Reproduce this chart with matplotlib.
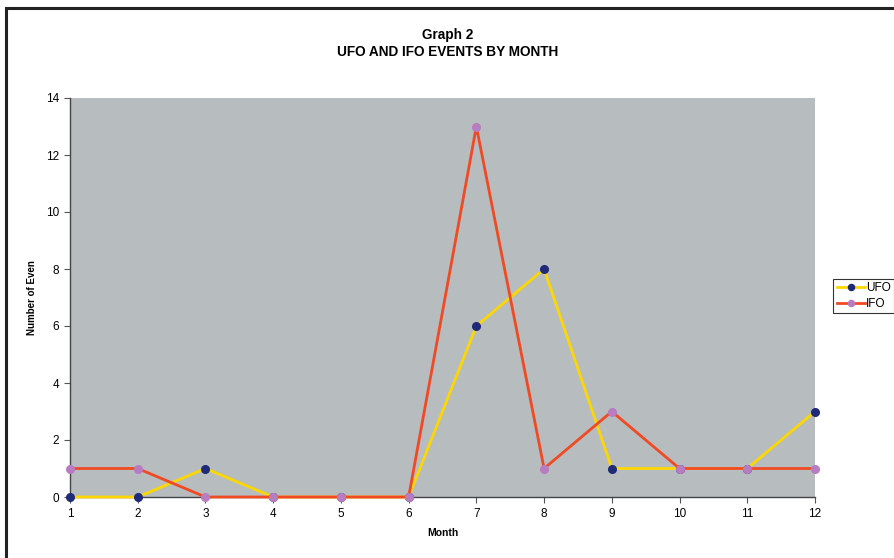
import matplotlib.pyplot as plt
from matplotlib.patches import Rectangle

# data
months = [1, 2, 3, 4, 5, 6, 7, 8, 9, 10, 11, 12]
ufo = [0, 0, 1, 0, 0, 0, 6, 8, 1, 1, 1, 3]
ifo = [1, 1, 0, 0, 0, 0, 13, 1, 3, 1, 1, 1]
yticks = [0, 2, 4, 6, 8, 10, 12, 14]

plt.rcParams['font.family'] = ['Liberation Sans', 'DejaVu Sans']

fig = plt.figure(figsize=(8.95, 5.58), dpi=100)
ax = fig.add_axes([70/895, 1 - 497/558, 745/895, 399/558])
ax.set_facecolor('#b7bcbe')

ax.plot(months, ufo, color='#ffd700', lw=2, marker='o', ms=5.5,
        mfc='#1f2a78', mec='#1f2a78', label='UFO', clip_on=False, zorder=3)
ax.plot(months, ifo, color='#f04a24', lw=2, marker='o', ms=5.5,
        mfc='#b87cc0', mec='#b87cc0', label='IFO', clip_on=False, zorder=4)

ax.set_xlim(1, 12)
ax.set_ylim(0, 14)
ax.set_xticks(months)
ax.set_yticks(yticks)
ax.tick_params(labelsize=8.5, length=4, color='#555555', pad=4)
for s in ['top', 'right']:
    ax.spines[s].set_visible(False)
for s in ['left', 'bottom']:
    ax.spines[s].set_color('#444444')
    ax.spines[s].set_linewidth(1)

ax.set_xlabel('Month', fontsize=7.5, fontweight='bold', labelpad=6)
ax.set_ylabel('Number of Even', fontsize=7, fontweight='bold', labelpad=6)

fig.text(0.5, 1 - 35/558, 'Graph 2', ha='center', va='center',
         fontsize=9.8, fontweight='bold')
fig.text(0.5, 1 - 52/558, 'UFO AND IFO EVENTS BY MONTH', ha='center',
         va='center', fontsize=9.8, fontweight='bold')

leg = fig.legend(loc='center left', bbox_to_anchor=(833/895, 1 - 296/558),
                 fontsize=8.5, frameon=True, fancybox=False, borderpad=0.3,
                 handlelength=2.4, handletextpad=0.1, labelspacing=0.3,
                 borderaxespad=0, markerscale=0.8)
leg.get_frame().set_edgecolor('black')
leg.get_frame().set_linewidth(0.8)

# outer chart frame
fig.patches.append(Rectangle((6/895, -0.1), 1.1, 1 - 8/558 + 0.1,
                             transform=fig.transFigure, fill=False,
                             edgecolor='#222222', lw=2.2))

fig.savefig('out.png', dpi=100)
